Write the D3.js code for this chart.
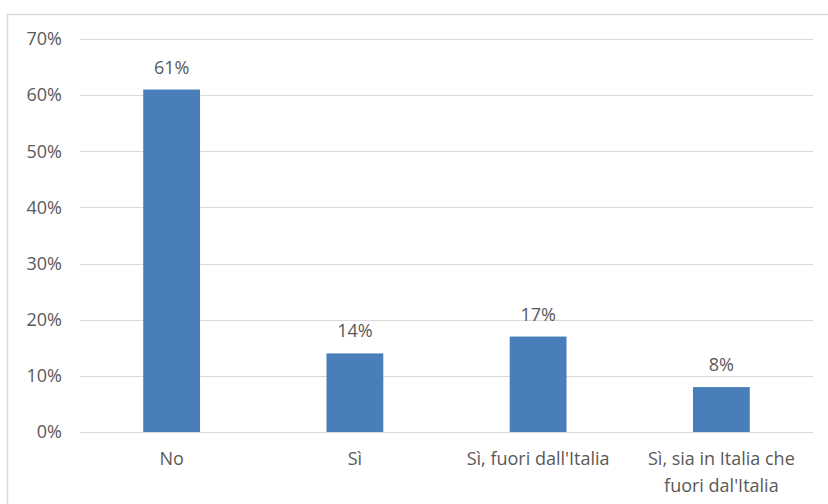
<!DOCTYPE html>
<html>
<head>
<meta charset="utf-8">
<script src="https://cdn.jsdelivr.net/npm/d3@7"></script>
<style>
  html, body { margin: 0; padding: 0; background: #fff; }
  svg { display: block; }
  text { font-family: "Open Sans", "Liberation Sans", Arial, sans-serif; fill: #595959; }
</style>
</head>
<body>
<svg id="chart" width="828" height="504"></svg>
<script>
// Responses and their shares (percent)
const categories = ["No", "Sì", "Sì, fuori dall'Italia", "Sì, sia in Italia che fuori dal'Italia"];
const values = [61, 14, 17, 8];
const yTicks = [0, 10, 20, 30, 40, 50, 60, 70];

const W = 828, H = 504;
const margin = { left: 80, right: 15, top: 39, bottom: 72 };
const fontSize = "18px";
const svg = d3.select("#chart");

// Chart frame
svg.append("path")
  .attr("d", `M7.5,${H} V14.5 H${W}`)
  .attr("fill", "none")
  .attr("stroke", "#d9d9d9")
  .attr("stroke-width", 1.5);

const x = d3.scaleBand()
  .domain(categories)
  .range([margin.left, W - margin.right])
  .paddingInner(0.69)
  .paddingOuter(0.345);

const y = d3.scaleLinear()
  .domain([0, 70])
  .range([H - margin.bottom, margin.top]);

// Gridlines
svg.append("g")
  .selectAll("line")
  .data(yTicks)
  .join("line")
  .attr("x1", margin.left)
  .attr("x2", W - margin.right)
  .attr("y1", d => Math.round(y(d)) + 0.5)
  .attr("y2", d => Math.round(y(d)) + 0.5)
  .attr("stroke", "#d9d9d9")
  .attr("stroke-width", 1.2);

// Y axis labels
const yAxis = d3.axisLeft(y)
  .tickValues(yTicks)
  .tickFormat(d => d + "%")
  .tickSize(0)
  .tickPadding(18);
const gy = svg.append("g")
  .attr("transform", `translate(${margin.left},0)`)
  .call(yAxis);
gy.select(".domain").remove();
gy.selectAll("text")
  .style("font-size", fontSize)
  .attr("fill", "#595959");

// Bars
svg.append("g")
  .selectAll("rect")
  .data(values)
  .join("rect")
  .attr("x", (d, i) => x(categories[i]))
  .attr("width", x.bandwidth())
  .attr("y", d => y(d))
  .attr("height", d => y(0) - y(d))
  .attr("fill", "#4a7ebb");

// Value labels
svg.append("g")
  .selectAll("text")
  .data(values)
  .join("text")
  .attr("x", (d, i) => x(categories[i]) + x.bandwidth() / 2)
  .attr("y", d => y(d) - 16)
  .attr("text-anchor", "middle")
  .style("font-size", fontSize)
  .text(d => d + "%");

// Category labels (wrapped where needed)
const xLabelLines = [["No"], ["Sì"], ["Sì, fuori dall'Italia"], ["Sì, sia in Italia che", "fuori dal'Italia"]];
const gx = svg.append("g");
categories.forEach((c, i) => {
  const t = gx.append("text")
    .attr("x", x(c) + x.bandwidth() / 2)
    .attr("y", y(0) + 33)
    .attr("text-anchor", "middle")
    .style("font-size", fontSize);
  xLabelLines[i].forEach((line, j) => {
    t.append("tspan")
      .attr("x", x(c) + x.bandwidth() / 2)
      .attr("dy", j === 0 ? 0 : 27)
      .text(line);
  });
});
</script>
</body>
</html>
